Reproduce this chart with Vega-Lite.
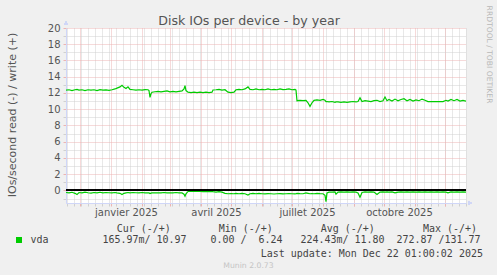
{
  "$schema": "https://vega.github.io/schema/vega-lite/v6.json",
  "width": 400,
  "height": 175,
  "autosize": {"type": "none"},
  "padding": {"left": 66, "top": 28, "right": 31, "bottom": 72},
  "background": "#f0f0f0",
  "config": {"view": {"stroke": null, "fill": "white"}},
  "data": {"values": [
    {"d": "2024-11-17", "w": 12.35, "r": -0.25},
    {"d": "2024-11-20", "w": 12.40, "r": -0.30},
    {"d": "2024-11-23", "w": 12.30, "r": -0.22},
    {"d": "2024-11-26", "w": 12.40, "r": -0.35},
    {"d": "2024-11-28", "w": 12.45, "r": -0.50},
    {"d": "2024-11-30", "w": 12.35, "r": -0.25},
    {"d": "2024-12-03", "w": 12.40, "r": -0.30},
    {"d": "2024-12-06", "w": 12.30, "r": -0.20},
    {"d": "2024-12-09", "w": 12.40, "r": -0.28},
    {"d": "2024-12-12", "w": 12.35, "r": -0.32},
    {"d": "2024-12-15", "w": 12.40, "r": -0.25},
    {"d": "2024-12-18", "w": 12.30, "r": -0.30},
    {"d": "2024-12-21", "w": 12.42, "r": -0.22},
    {"d": "2024-12-24", "w": 12.35, "r": -0.30},
    {"d": "2024-12-27", "w": 12.38, "r": -0.25},
    {"d": "2024-12-30", "w": 12.33, "r": -0.28},
    {"d": "2025-01-02", "w": 12.40, "r": -0.30},
    {"d": "2025-01-05", "w": 12.50, "r": -0.25},
    {"d": "2025-01-07", "w": 12.60, "r": -0.30},
    {"d": "2025-01-10", "w": 12.75, "r": -0.35},
    {"d": "2025-01-12", "w": 12.95, "r": -0.50},
    {"d": "2025-01-14", "w": 12.70, "r": -0.35},
    {"d": "2025-01-16", "w": 12.55, "r": -0.30},
    {"d": "2025-01-18", "w": 12.75, "r": -0.25},
    {"d": "2025-01-20", "w": 12.45, "r": -0.30},
    {"d": "2025-01-23", "w": 12.40, "r": -0.25},
    {"d": "2025-01-26", "w": 12.35, "r": -0.28},
    {"d": "2025-01-29", "w": 12.40, "r": -0.30},
    {"d": "2025-02-01", "w": 12.35, "r": -0.25},
    {"d": "2025-02-04", "w": 12.42, "r": -0.30},
    {"d": "2025-02-07", "w": 12.40, "r": -0.28},
    {"d": "2025-02-08", "w": 12.30, "r": -0.30},
    {"d": "2025-02-09", "w": 11.45, "r": -0.38},
    {"d": "2025-02-10", "w": 11.90, "r": -0.32},
    {"d": "2025-02-11", "w": 12.10, "r": -0.30},
    {"d": "2025-02-14", "w": 12.15, "r": -0.30},
    {"d": "2025-02-17", "w": 12.20, "r": -0.28},
    {"d": "2025-02-20", "w": 12.15, "r": -0.30},
    {"d": "2025-02-23", "w": 12.20, "r": -0.25},
    {"d": "2025-02-26", "w": 12.25, "r": -0.30},
    {"d": "2025-03-01", "w": 12.15, "r": -0.28},
    {"d": "2025-03-04", "w": 12.20, "r": -0.30},
    {"d": "2025-03-07", "w": 12.15, "r": -0.25},
    {"d": "2025-03-10", "w": 12.20, "r": -0.30},
    {"d": "2025-03-13", "w": 12.25, "r": -0.30},
    {"d": "2025-03-15", "w": 12.50, "r": -0.45},
    {"d": "2025-03-16", "w": 12.90, "r": -0.70},
    {"d": "2025-03-17", "w": 12.30, "r": -0.40},
    {"d": "2025-03-19", "w": 12.10, "r": -0.12},
    {"d": "2025-03-22", "w": 12.05, "r": -0.10},
    {"d": "2025-03-25", "w": 12.10, "r": -0.12},
    {"d": "2025-03-28", "w": 12.05, "r": -0.10},
    {"d": "2025-03-31", "w": 12.10, "r": -0.12},
    {"d": "2025-04-03", "w": 12.05, "r": -0.15},
    {"d": "2025-04-06", "w": 12.10, "r": -0.12},
    {"d": "2025-04-09", "w": 12.05, "r": -0.15},
    {"d": "2025-04-12", "w": 12.10, "r": -0.12},
    {"d": "2025-04-13", "w": 12.37, "r": -0.15},
    {"d": "2025-04-16", "w": 12.40, "r": -0.20},
    {"d": "2025-04-19", "w": 12.45, "r": -0.15},
    {"d": "2025-04-22", "w": 12.35, "r": -0.20},
    {"d": "2025-04-25", "w": 12.40, "r": -0.35},
    {"d": "2025-04-28", "w": 12.10, "r": -0.40},
    {"d": "2025-05-01", "w": 12.05, "r": -0.38},
    {"d": "2025-05-04", "w": 12.10, "r": -0.40},
    {"d": "2025-05-06", "w": 12.40, "r": -0.35},
    {"d": "2025-05-09", "w": 12.45, "r": -0.40},
    {"d": "2025-05-12", "w": 12.40, "r": -0.35},
    {"d": "2025-05-15", "w": 12.50, "r": -0.40},
    {"d": "2025-05-18", "w": 12.75, "r": -0.55},
    {"d": "2025-05-20", "w": 12.45, "r": -0.40},
    {"d": "2025-05-23", "w": 12.40, "r": -0.35},
    {"d": "2025-05-26", "w": 12.50, "r": -0.40},
    {"d": "2025-05-29", "w": 12.40, "r": -0.35},
    {"d": "2025-06-01", "w": 12.45, "r": -0.40},
    {"d": "2025-06-04", "w": 12.40, "r": -0.42},
    {"d": "2025-06-07", "w": 12.50, "r": -0.38},
    {"d": "2025-06-10", "w": 12.40, "r": -0.40},
    {"d": "2025-06-13", "w": 12.45, "r": -0.43},
    {"d": "2025-06-16", "w": 12.40, "r": -0.40},
    {"d": "2025-06-19", "w": 12.50, "r": -0.38},
    {"d": "2025-06-22", "w": 12.42, "r": -0.42},
    {"d": "2025-06-25", "w": 12.45, "r": -0.40},
    {"d": "2025-06-28", "w": 12.50, "r": -0.38},
    {"d": "2025-07-01", "w": 12.40, "r": -0.40},
    {"d": "2025-07-04", "w": 12.45, "r": -0.42},
    {"d": "2025-07-05", "w": 12.35, "r": -0.40},
    {"d": "2025-07-06", "w": 11.05, "r": -0.35},
    {"d": "2025-07-09", "w": 11.10, "r": -0.38},
    {"d": "2025-07-12", "w": 11.05, "r": -0.40},
    {"d": "2025-07-15", "w": 11.10, "r": -0.30},
    {"d": "2025-07-17", "w": 10.80, "r": -0.35},
    {"d": "2025-07-19", "w": 10.35, "r": -0.40},
    {"d": "2025-07-21", "w": 10.80, "r": -0.38},
    {"d": "2025-07-23", "w": 11.10, "r": -0.40},
    {"d": "2025-07-26", "w": 11.15, "r": -0.35},
    {"d": "2025-07-29", "w": 11.10, "r": -0.38},
    {"d": "2025-08-01", "w": 11.20, "r": -0.40},
    {"d": "2025-08-03", "w": 11.10, "r": -0.60},
    {"d": "2025-08-04", "w": 10.95, "r": -1.37},
    {"d": "2025-08-05", "w": 10.95, "r": -0.30},
    {"d": "2025-08-07", "w": 10.90, "r": -0.20},
    {"d": "2025-08-10", "w": 10.95, "r": -0.20},
    {"d": "2025-08-13", "w": 10.85, "r": -0.18},
    {"d": "2025-08-14", "w": 10.90, "r": -0.45},
    {"d": "2025-08-16", "w": 10.90, "r": -0.20},
    {"d": "2025-08-19", "w": 10.85, "r": -0.18},
    {"d": "2025-08-22", "w": 10.90, "r": -0.20},
    {"d": "2025-08-25", "w": 10.85, "r": -0.18},
    {"d": "2025-08-28", "w": 10.90, "r": -0.20},
    {"d": "2025-08-31", "w": 10.95, "r": -0.18},
    {"d": "2025-09-03", "w": 10.90, "r": -0.20},
    {"d": "2025-09-05", "w": 10.95, "r": -0.30},
    {"d": "2025-09-07", "w": 11.40, "r": -0.84},
    {"d": "2025-09-09", "w": 10.95, "r": -0.25},
    {"d": "2025-09-12", "w": 11.05, "r": -0.18},
    {"d": "2025-09-15", "w": 11.00, "r": -0.20},
    {"d": "2025-09-18", "w": 10.95, "r": -0.18},
    {"d": "2025-09-21", "w": 11.05, "r": -0.20},
    {"d": "2025-09-24", "w": 11.10, "r": -0.50},
    {"d": "2025-09-27", "w": 10.95, "r": -0.20},
    {"d": "2025-09-30", "w": 11.05, "r": -0.18},
    {"d": "2025-10-02", "w": 11.50, "r": -0.20},
    {"d": "2025-10-04", "w": 11.05, "r": -0.18},
    {"d": "2025-10-06", "w": 11.20, "r": -0.20},
    {"d": "2025-10-09", "w": 11.00, "r": -0.18},
    {"d": "2025-10-12", "w": 11.25, "r": -0.30},
    {"d": "2025-10-15", "w": 11.05, "r": -0.20},
    {"d": "2025-10-18", "w": 11.20, "r": -0.18},
    {"d": "2025-10-21", "w": 11.30, "r": -0.20},
    {"d": "2025-10-24", "w": 11.05, "r": -0.18},
    {"d": "2025-10-27", "w": 11.20, "r": -0.20},
    {"d": "2025-10-30", "w": 11.00, "r": -0.18},
    {"d": "2025-11-02", "w": 11.15, "r": -0.20},
    {"d": "2025-11-05", "w": 11.05, "r": -0.18},
    {"d": "2025-11-08", "w": 11.25, "r": -0.20},
    {"d": "2025-11-11", "w": 11.10, "r": -0.18},
    {"d": "2025-11-14", "w": 10.95, "r": -0.20},
    {"d": "2025-11-17", "w": 10.95, "r": -0.18},
    {"d": "2025-11-20", "w": 10.95, "r": -0.20},
    {"d": "2025-11-23", "w": 10.95, "r": -0.18},
    {"d": "2025-11-26", "w": 10.95, "r": -0.20},
    {"d": "2025-11-29", "w": 10.95, "r": -0.18},
    {"d": "2025-12-02", "w": 11.10, "r": -0.20},
    {"d": "2025-12-04", "w": 11.00, "r": -0.30},
    {"d": "2025-12-07", "w": 11.20, "r": -0.18},
    {"d": "2025-12-10", "w": 11.05, "r": -0.20},
    {"d": "2025-12-13", "w": 11.20, "r": -0.18},
    {"d": "2025-12-16", "w": 11.00, "r": -0.20},
    {"d": "2025-12-19", "w": 11.10, "r": -0.18},
    {"d": "2025-12-22", "w": 11.00, "r": -0.20}
  ]},
  "resolve": {"axis": {"x": "independent", "y": "independent"}},
  "layer": [
    {
      "mark": {"type": "line", "strokeWidth": 1.2, "clip": true},
      "encoding": {
        "x": {"field": "d", "type": "temporal",
          "scale": {"type": "utc", "domain": [{"year": 2024, "month": 11, "date": 17, "utc": true}, {"year": 2025, "month": 12, "date": 22, "utc": true}]},
          "axis": {"orient": "bottom", "values": {"expr": "sequence(utc(2024,10,18), utc(2025,11,23), 604800000)"}, "grid": true, "gridColor": "#d0d0d0", "gridDash": [1, 1], "ticks": true, "tickColor": "#d0d0d0", "tickSize": 3, "labels": false, "domain": false,
            "title": "Munin 2.0.73", "titleFont": "DejaVu Sans", "titleFontSize": 7.7, "titleFontWeight": "normal", "titleColor": "#c4c4c4", "titleX": 182, "titleY": 64, "titleAlign": "center", "titleBaseline": "alphabetic"}},
        "y": {"field": "w", "type": "quantitative",
          "scale": {"domain": [-1.54, 20], "nice": false, "zero": false},
          "axis": {"orient": "left", "values": [-1, 1, 3, 5, 7, 9, 11, 13, 15, 17, 19], "grid": true, "gridColor": "#d0d0d0", "gridDash": [1, 1], "ticks": true, "tickColor": "#d0d0d0", "tickSize": 3, "labels": false, "domain": false,
            "title": "Disk IOs per device - by year", "titleFont": "DejaVu Sans", "titleFontSize": 12.6, "titleFontWeight": "normal", "titleColor": "#555555", "titleAngle": 0, "titleX": 182.5, "titleY": -4, "titleAlign": "center", "titleBaseline": "alphabetic"}},
        "color": {"datum": "vda", "scale": {"range": ["#00cc00"]},
          "legend": {"orient": "none", "legendX": -52, "legendY": 207, "title": null, "symbolType": "square", "symbolSize": 36, "symbolFillColor": "#00cc00", "symbolStrokeColor": "#00cc00", "symbolStrokeWidth": 0, "labelFont": "DejaVu Sans Mono", "labelFontSize": 9.97, "labelColor": "#444444", "labelOffset": 6.5, "labelLimit": 600, "padding": 0,
            "labelExpr": "datum.label + '\u00a0\u00a0\u00a0\u00a0\u00a0\u00a0\u00a0\u00a0\u00a0165.97m/\u00a010.97\u00a0\u00a0\u00a0\u00a00.00\u00a0/\u00a0\u00a06.24\u00a0\u00a0\u00a0224.43m/\u00a011.80\u00a0\u00a0272.87\u00a0/131.77'"}}
      }
    },
    {
      "mark": {"type": "line", "strokeWidth": 1.2, "clip": true},
      "encoding": {
        "x": {"field": "d", "type": "temporal",
          "scale": {"type": "utc", "domain": [{"year": 2024, "month": 11, "date": 17, "utc": true}, {"year": 2025, "month": 12, "date": 22, "utc": true}]},
          "axis": {"orient": "bottom", "tickCount": {"interval": "month", "step": 1}, "grid": true, "gridColor": "#ecb4b4", "gridDash": [1, 1], "ticks": true, "tickColor": "#ecb4b4", "tickSize": 3, "labels": false, "domain": true, "domainColor": "#cfd6f8",
            "title": "Cur\u00a0(-/+)\u00a0\u00a0\u00a0\u00a0\u00a0\u00a0\u00a0\u00a0Min\u00a0(-/+)\u00a0\u00a0\u00a0\u00a0\u00a0\u00a0\u00a0\u00a0Avg\u00a0(-/+)\u00a0\u00a0\u00a0\u00a0\u00a0\u00a0\u00a0\u00a0Max\u00a0(-/+)",
            "titleFont": "DejaVu Sans Mono", "titleFontSize": 9.97, "titleFontWeight": "normal", "titleColor": "#444444", "titleX": 410.4, "titleY": 28, "titleAlign": "right", "titleBaseline": "alphabetic"}},
        "y": {"field": "r", "type": "quantitative",
          "scale": {"domain": [-1.54, 20], "nice": false, "zero": false},
          "axis": {"orient": "left", "values": [0, 2, 4, 6, 8, 10, 12, 14, 16, 18, 20], "grid": true, "gridColor": "#ecb4b4", "gridDash": [1, 1], "ticks": true, "tickColor": "#ecb4b4", "tickSize": 3, "labels": true, "labelFont": "DejaVu Sans", "labelFontSize": 10, "labelColor": "#555555", "labelPadding": 3, "domain": true, "domainColor": "#cfd6f8",
            "title": "IOs/second read (-) / write (+)", "titleFont": "DejaVu Sans", "titleFontSize": 11, "titleFontWeight": "normal", "titleColor": "#555555", "titleAngle": -90, "titleX": -51, "titleY": 86.5, "titleAlign": "center", "titleBaseline": "alphabetic"}},
        "color": {"datum": "vda"}
      }
    },
    {
      "mark": {"type": "rule", "color": "black", "strokeWidth": 1},
      "encoding": {
        "x": {"datum": {"year": 2024, "month": 11, "date": 17, "utc": true}, "type": "temporal",
          "axis": {"orient": "bottom", "values": [{"year": 2025, "month": 1, "date": 16, "utc": true}, {"year": 2025, "month": 4, "date": 16, "utc": true}, {"year": 2025, "month": 7, "date": 16, "utc": true}, {"year": 2025, "month": 10, "date": 16, "utc": true}],
            "labelExpr": "['janvier','février','mars','avril','mai','juin','juillet','août','septembre','octobre','novembre','décembre'][utcmonth(datum.value)] + ' ' + utcyear(datum.value)",
            "grid": false, "ticks": false, "domain": false, "labelFont": "DejaVu Sans", "labelFontSize": 10, "labelColor": "#555555", "labelPadding": 12, "labelBaseline": "alphabetic", "labelFlush": false, "labelOverlap": false,
            "title": "Last update: Mon Dec 22 01:00:02 2025", "titleFont": "DejaVu Sans Mono", "titleFontSize": 9.97, "titleFontWeight": "normal", "titleColor": "#444444", "titleX": 416.4, "titleY": 53, "titleAlign": "right", "titleBaseline": "alphabetic"}},
        "x2": {"datum": {"year": 2025, "month": 12, "date": 22, "utc": true}},
        "y": {"datum": 0, "type": "quantitative",
          "axis": {"orient": "right", "grid": false, "ticks": false, "labels": false, "domain": false,
            "title": "RRDTOOL / TOBI OETIKER", "titleFont": "DejaVu Sans", "titleFontSize": 7.6, "titleFontWeight": "normal", "titleColor": "#b8b8b8", "titleAngle": 90, "titleX": 22.3, "titleY": 26, "titleAlign": "center", "titleBaseline": "middle"}}
      }
    },
    {
      "mark": {"type": "point", "shape": "triangle-up", "filled": true, "color": "#cfd6f8", "size": 18, "opacity": 1, "clip": false},
      "encoding": {
        "x": {"datum": {"year": 2024, "month": 11, "date": 17, "utc": true}, "type": "temporal", "axis": null},
        "y": {"datum": 20.6, "type": "quantitative", "axis": null}
      }
    },
    {
      "mark": {"type": "point", "shape": "triangle-right", "filled": true, "color": "#cfd6f8", "size": 18, "opacity": 1, "clip": false},
      "encoding": {
        "x": {"datum": {"year": 2025, "month": 12, "date": 26, "utc": true}, "type": "temporal", "axis": null},
        "y": {"datum": -1.54, "type": "quantitative", "axis": null}
      }
    }
  ]
}
